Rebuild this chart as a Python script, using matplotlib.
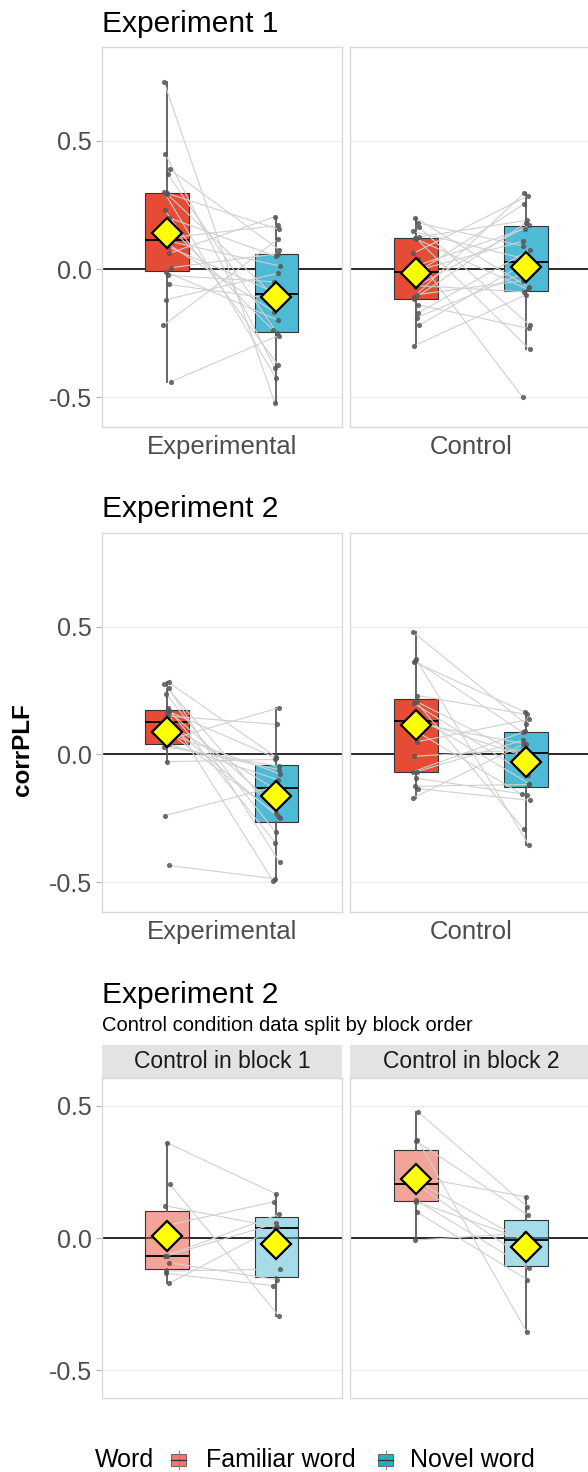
import numpy as np
import matplotlib
matplotlib.use("Agg")
import matplotlib.pyplot as plt
from matplotlib.colors import to_rgba
from matplotlib.patches import Rectangle
from matplotlib.lines import Line2D

plt.rcParams["font.family"] = ["Liberation Sans", "DejaVu Sans"]

words = ["Familiar word", "Novel word"]
conditions = ["Experimental", "Control"]
blocks = ["Control in block 1", "Control in block 2"]
yticks = [-0.5, 0.0, 0.5]
ytick_labels = ["-0.5", "0.0", "0.5"]

# corrPLF per participant (familiar[i] and novel[i] belong to the same person)
exp1_exp_familiar = [0.73, 0.45, 0.39, 0.37, 0.30, 0.296, 0.293, 0.23, 0.20, 0.185, 0.12,
                     0.11, 0.10, 0.087, 0.061, 0.005, -0.01, -0.025, -0.06, -0.12, -0.22, -0.44]
exp1_exp_novel = [-0.525, -0.388, 0.074, -0.25, -0.427, 0.155, -0.1, -0.375, 0.05, -0.24, 0.17,
                  0.012, -0.167, -0.095, 0.204, 0.06, -0.2, -0.05, -0.12, -0.017, 0.116, -0.26]

exp1_ctl_familiar = [0.2, 0.18, 0.163, 0.147, 0.125, 0.123, 0.118, 0.061, 0.04, 0.01, -0.004,
                     -0.02, -0.065, -0.07, -0.1, -0.11, -0.117, -0.14, -0.172, -0.19, -0.22, -0.30]
exp1_ctl_novel = [-0.072, 0.09, -0.219, 0.038, 0.19, -0.314, -0.08, 0.286, -0.5, 0.158, 0.109,
                  0.252, -0.089, 0.171, -0.046, 0.298, 0.18, -0.232, 0.074, -0.01, 0.02, -0.1]

exp2_exp_familiar = [0.281, 0.275, 0.26, 0.236, 0.18, 0.17, 0.168, 0.163, 0.15, 0.13,
                     0.12, 0.1, 0.082, 0.056, 0.04, 0.035, 0.03, -0.029, -0.24, -0.435]
exp2_exp_novel = [-0.009, -0.23, -0.422, -0.305, -0.347, -0.2, -0.015, -0.497, 0.117, -0.25,
                  -0.14, -0.24, -0.076, 0.182, -0.1, -0.06, -0.047, -0.02, -0.125, -0.487]

block1_familiar = [0.361, 0.203, 0.122, 0.049, -0.068, -0.068, -0.093, -0.125, -0.134, -0.171]
block1_novel = [0.166, -0.294, 0.04, 0.137, 0.055, 0.09, -0.158, -0.118, -0.18, 0.039]
block2_familiar = [0.477, 0.372, 0.366, 0.23, 0.21, 0.20, 0.143, 0.137, 0.097, -0.008]
block2_novel = [0.118, -0.356, 0.086, 0.156, -0.006, -0.08, -0.115, -0.01, -0.157, 0.018]

# the Experiment 2 control condition is both block orders together
exp2_ctl_familiar = block1_familiar + block2_familiar
exp2_ctl_novel = block1_novel + block2_novel

box_colors = ["#E64B35", "#4DBBD5"]
key_colors = ["#F8766D", "#00BFC4"]
rng = np.random.default_rng(3)  # horizontal jitter of the participant dots

W, H = 588, 1472
fig = plt.figure(figsize=(W / 100, H / 100), dpi=100)


def px_axes(x0, x1, y0, y1):
    return fig.add_axes([x0 / W, 1 - y1 / H, (x1 - x0) / W, (y1 - y0) / H])


def draw_panel(ax, familiar, novel, ylim, alpha=1.0, show_y=True):
    data = [np.asarray(familiar), np.asarray(novel)]
    pos = [1, 2]
    ax.axhline(0, color="#1A1A1A", lw=1.3, zorder=1)
    bp = ax.boxplot(data, positions=pos, widths=0.4, patch_artist=True,
                    showfliers=False, showcaps=False, whis=1.5, zorder=2,
                    boxprops=dict(edgecolor="#333333", linewidth=0.8),
                    whiskerprops=dict(color="#5A5A5A", linewidth=1.3),
                    medianprops=dict(color="black", linewidth=1.3))
    for patch, c in zip(bp["boxes"], box_colors):
        patch.set_facecolor(to_rgba(c, alpha))

    jit = [rng.uniform(-0.035, 0.035, len(d)) for d in data]
    xs = [p + j for p, j in zip(pos, jit)]
    for i in range(len(data[0])):
        ax.plot([xs[0][i], xs[1][i]], [data[0][i], data[1][i]],
                color="#D0D0D0", lw=0.8, zorder=3)
    for x, d in zip(xs, data):
        ax.scatter(x, d, s=14, color="#555555", alpha=0.85, lw=0, zorder=4)

    means = [d.mean() for d in data]
    ses = [d.std(ddof=1) / np.sqrt(len(d)) for d in data]
    ax.errorbar(pos, means, yerr=ses, fmt="none", ecolor="black",
                elinewidth=2.5, capsize=0, zorder=5)
    ax.plot(pos, means, "D", ms=15, mfc="#FFFF00", mec="black", mew=1.6,
            zorder=6, ls="none")

    ax.set_xlim(0.4, 2.6)
    ax.set_ylim(*ylim)
    ax.set_yticks(yticks)
    ax.grid(axis="y", color="#EBEBEB", lw=0.9)
    ax.set_axisbelow(True)
    for s in ax.spines.values():
        s.set_color("#DADADA")
        s.set_linewidth(1.0)
    if show_y:
        ax.set_yticklabels(ytick_labels)
        ax.tick_params(axis="y", length=4, color="#B3B3B3", labelsize=18,
                       labelcolor="#4D4D4D", pad=3)
    else:
        ax.tick_params(axis="y", length=0, labelleft=False)


lim12 = (-0.617, 0.867)
lim3 = (-0.605, 0.605)

rows = [
    (47, 427, [(exp1_exp_familiar, exp1_exp_novel), (exp1_ctl_familiar, exp1_ctl_novel)]),
    (532.7, 912, [(exp2_exp_familiar, exp2_exp_novel), (exp2_ctl_familiar, exp2_ctl_novel)]),
]
for y0, y1, pairs in rows:
    for k, ((fam, nov), cond, (x0, x1)) in enumerate(
            zip(pairs, conditions, [(101.7, 342), (350, 592)])):
        ax = px_axes(x0, x1, y0, y1)
        draw_panel(ax, fam, nov, lim12, show_y=(k == 0))
        ax.set_xticks([1.5], [cond])
        ax.tick_params(axis="x", length=0, labelsize=18.5, labelcolor="#4D4D4D", pad=6)

for k, ((fam, nov), title, (x0, x1)) in enumerate(
        zip([(block1_familiar, block1_novel), (block2_familiar, block2_novel)],
            blocks, [(101.7, 342), (350, 592)])):
    ax = px_axes(x0, x1, 1078, 1398)
    draw_panel(ax, fam, nov, lim3, alpha=0.5, show_y=(k == 0))
    ax.set_xticks([])
    strip_h = 33 / 320
    ax.add_patch(Rectangle((0, 1), 1, strip_h, transform=ax.transAxes,
                           facecolor="#E3E3E3", edgecolor="none", clip_on=False))
    ax.text(0.5, 1 + strip_h / 2, title, transform=ax.transAxes, ha="center",
            va="center", fontsize=16.5, color="#1A1A1A")

# titles
fig.text(101.7 / W, 1 - 32 / H, "Experiment 1", fontsize=21.5, va="baseline")
fig.text(101.7 / W, 1 - 517 / H, "Experiment 2", fontsize=21.5, va="baseline")
fig.text(101.7 / W, 1 - 1003 / H, "Experiment 2", fontsize=21.5, va="baseline")
fig.text(101.7 / W, 1 - 1031 / H, "Control condition data split by block order",
         fontsize=14.5, va="baseline")

fig.text(23 / W, 1 - 750 / H, "corrPLF", fontsize=17.5, fontweight="bold",
         rotation=90, ha="center", va="center")

# legend
ly = 1 - 1460 / H
fig.text(95 / W, ly, "Word", fontsize=18, va="center")
for x_key, x_txt, c, lab in zip([171, 378], [206, 410], key_colors, words):
    fig.add_artist(Line2D([(x_key + 7.5) / W] * 2, [1 - 1469 / H, 1 - 1451 / H],
                          transform=fig.transFigure, color="#888888", lw=0.8))
    fig.add_artist(Rectangle((x_key / W, 1 - 1466 / H), 15 / W, 12 / H,
                             transform=fig.transFigure, facecolor=c,
                             edgecolor="#555555", lw=0.6))
    fig.add_artist(Line2D([x_key / W, (x_key + 15) / W], [ly, ly],
                          transform=fig.transFigure, color="#333333", lw=0.9))
    fig.text(x_txt / W, ly, lab, fontsize=18, va="center")

fig.savefig("out.png", dpi=100)
